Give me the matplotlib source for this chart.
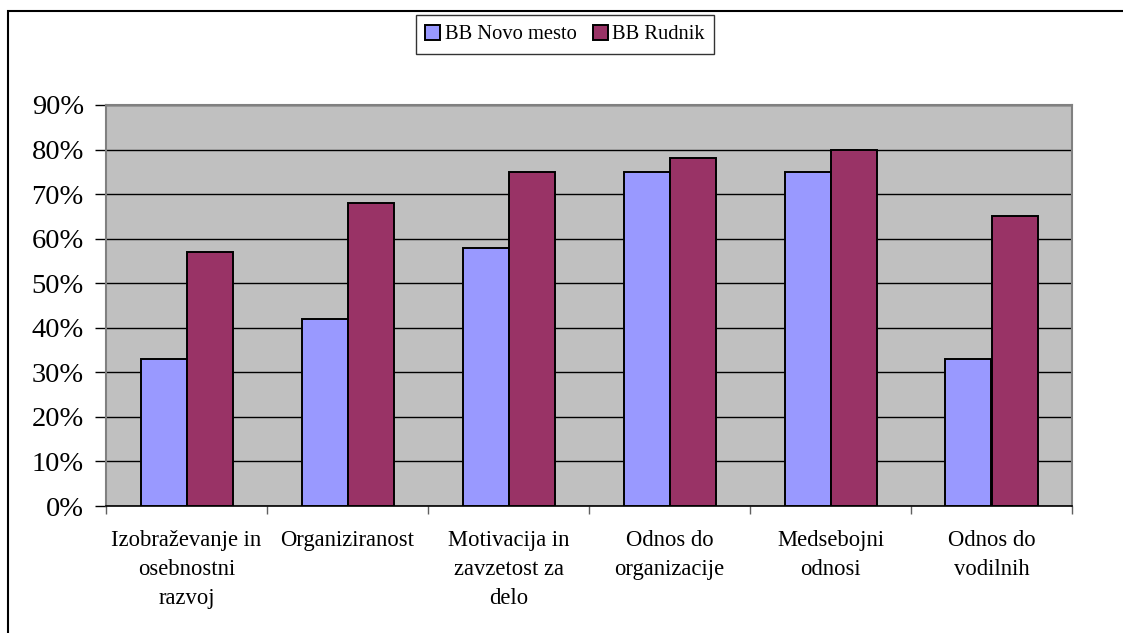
import numpy as np
import matplotlib
matplotlib.use('Agg')
import matplotlib.pyplot as plt
from matplotlib.patches import Rectangle
from matplotlib.ticker import FixedLocator, PercentFormatter

categories = ['Izobraževanje in\nosebnostni\nrazvoj', 'Organiziranost',
              'Motivacija in\nzavzetost za\ndelo', 'Odnos do\norganizacije',
              'Medsebojni\nodnosi', 'Odnos do\nvodilnih']
novo_mesto = [33, 42, 58, 75, 75, 33]
rudnik = [57, 68, 75, 78, 80, 65]
series_names = ['BB Novo mesto', 'BB Rudnik']
yticks = [0, 10, 20, 30, 40, 50, 60, 70, 80, 90]

plt.rcParams['font.family'] = ['Liberation Serif', 'DejaVu Serif']

fig = plt.figure(figsize=(11.23, 6.33), dpi=100)
ax = fig.add_axes([106/1123, 1-506/633, 966/1123, 401/633])

# outer frame of the chart (only left/top visible in the reference)
fig.patches.append(Rectangle((7.5/1123, -0.2), 1.5, 1.2 - 11/633,
                             transform=fig.transFigure, fill=False,
                             edgecolor='black', linewidth=1.5, zorder=0))

x = np.arange(len(categories))
w = 1/3.5
ax.bar(x - w/2, novo_mesto, w, color='#9999FF', edgecolor='black',
       linewidth=1.4, label=series_names[0], zorder=3)
ax.bar(x + w/2, rudnik, w, color='#993366', edgecolor='black',
       linewidth=1.4, label=series_names[1], zorder=3)

ax.set_facecolor('#C0C0C0')
ax.set_xlim(-0.5, len(categories) - 0.5)
ax.set_ylim(0, 90)
ax.set_yticks(yticks)
ax.yaxis.set_major_formatter(PercentFormatter(decimals=0))
ax.grid(axis='y', color='black', linewidth=1, zorder=1)
ax.set_axisbelow(True)

for s in ['top', 'right', 'left']:
    ax.spines[s].set_color('#808080')
    ax.spines[s].set_linewidth(1.5)
ax.spines['bottom'].set_color('black')
ax.spines['bottom'].set_linewidth(1.2)

ax.tick_params(axis='y', length=8, width=1, color='black', pad=8,
               labelsize=20.5)
ax.set_xticks(x)
ax.set_xticklabels(categories, fontsize=16.3, linespacing=1.5)
ax.tick_params(axis='x', which='major', length=0, pad=17)
ax.xaxis.set_minor_locator(FixedLocator(np.arange(-0.5, len(categories), 1)))
ax.tick_params(axis='x', which='minor', length=6, width=1, color='#606060')

leg = fig.legend(loc='center', bbox_to_anchor=(565/1123, 1 - 34.5/633), ncol=2,
                 fontsize=14.8, frameon=True, fancybox=False, edgecolor='black',
                 handlelength=0.75, handleheight=0.75, handletextpad=0.2,
                 columnspacing=0.8, borderpad=0.45, borderaxespad=0)
leg.get_frame().set_linewidth(1)

plt.savefig('out.png', dpi=100)
